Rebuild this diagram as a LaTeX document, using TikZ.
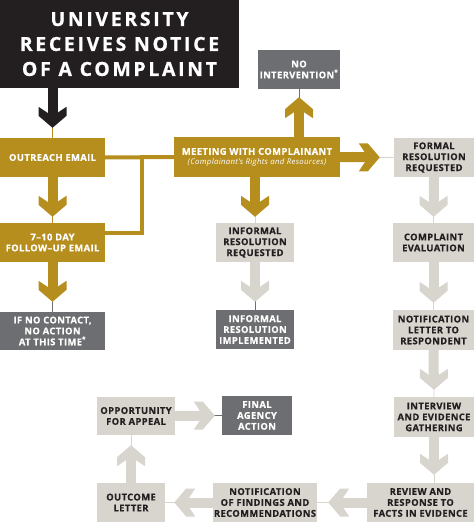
\documentclass[tikz,border=0pt]{standalone}
\usepackage{fontspec}
\usepackage{xcolor}
\usepackage{tikz}
\usetikzlibrary{calc}

\newfontfamily\boxfont{Open Sans}[LetterSpace=4, BoldFeatures={FakeBold=0.5}]
\newfontfamily\headfont{Open Sans}[LetterSpace=14, BoldFeatures={FakeBold=0.8}]

\definecolor{gold}{RGB}{181,142,30}
\definecolor{boxgrey}{RGB}{109,110,113}
\definecolor{boxpale}{RGB}{216,213,207}
\definecolor{inkblack}{RGB}{35,31,32}

\tikzset{
  box/.style={inner sep=0pt, align=center,
    font=\boxfont\bfseries\fontsize{9.4}{10.9}\selectfont},
  wh/.style 2 args={minimum width=#1, minimum height=#2},
  goldbox/.style={box, fill=gold, text=white},
  greybox/.style={box, fill=boxgrey, text=white},
  palebox/.style={box, fill=boxpale, text=inkblack},
  chev/.pic={\fill (0,0) -- (-12,14) -- (-21,14) -- (-15,5) -- (-15,-5) -- (-21,-14) -- (-12,-14) -- cycle;}
}

% #1 colour, #2 from, #3 to, #4 direction, #5 gap, #6 thin line colour
\newcommand{\chevron}[6]{%
  \draw[#6, line width=0.8pt] (#2) -- (#3);
  \coordinate (tip) at ($(#3)!#5pt!(#2)$);
  \draw[#1, line width=10pt] (#2) -- ($(tip)!14pt!(#2)$);
  \pic[fill=#1, rotate=#4] at (tip) {chev};
}

\begin{document}
\begin{tikzpicture}[x=1pt, y=-1pt]
    \useasboundingbox (0,0) rectangle (474,522);

    % Intake
    \node[box, fill=inkblack, text=white, wh={239}{88},
      font=\headfont\bfseries\fontsize{19.4}{25}\selectfont] (title) at (119.5,44)
      {UNIVERSITY\\RECEIVES NOTICE\\OF A COMPLAINT};
    \node[goldbox, wh={105}{39}] (outreach) at (52.5,157.5) {OUTREACH EMAIL};
    \node[goldbox, wh={105}{39}] (follow) at (52.5,242.5) {7–10 DAY\\FOLLOW–UP EMAIL};
    \node[greybox, wh={105}{38}] (nocontact) at (52.5,331) {IF NO CONTACT,\\NO ACTION\\AT THIS TIME\textsuperscript{*}};
    \node[goldbox, wh={166}{40}] (meeting) at (257,157)
      {MEETING WITH COMPLAINANT\\[-1.5pt]{\fontsize{7.8}{9}\mdseries\itshape (Complainant’s Rights and Resources)}};
    \node[greybox, wh={82}{39}] (nointerv) at (299,69.5) {NO\\INTERVENTION\textsuperscript{*}};

    % Informal track
    \node[palebox, wh={78}{39}] (informalreq) at (255,242.5) {INFORMAL\\RESOLUTION\\REQUESTED};
    \node[greybox, wh={78}{39}] (informalimp) at (255,329.5) {INFORMAL\\RESOLUTION\\IMPLEMENTED};

    % Formal track
    \node[palebox, wh={80}{39}] (formal) at (434,157.5) {FORMAL\\RESOLUTION\\REQUESTED};
    \node[palebox, wh={81}{39}] (evaluation) at (433.5,242.5) {COMPLAINT\\EVALUATION};
    \node[palebox, wh={81}{40}] (notifresp) at (433.5,330) {NOTIFICATION\\LETTER TO\\RESPONDENT};
    \node[palebox, wh={80}{40}] (interview) at (434,417) {INTERVIEW\\AND EVIDENCE\\GATHERING};
    \node[palebox, wh={107}{39}] (review) at (420.5,502.5) {REVIEW AND\\RESPONSE TO\\FACTS IN EVIDENCE};
    \node[palebox, wh={104}{39}] (findings) at (265,502.5) {NOTIFICATION\\OF FINDINGS AND\\RECOMMENDATIONS};
    \node[palebox, wh={68}{39}] (outcome) at (131,502.5) {OUTCOME\\LETTER};
    \node[palebox, wh={78}{38}] (appeal) at (136,416) {OPPORTUNITY\\FOR APPEAL};
    \node[greybox, wh={70}{39}] (final) at (257,415.5) {FINAL\\AGENCY\\ACTION};

    \coordinate (titlefoot) at (title.south -| outreach.north);
    \coordinate (meettop) at (meeting.north -| nointerv.south);
    \coordinate (meetfoot) at (meeting.south -| informalreq.north);
    \coordinate (reviewtop) at (interview.south |- review.north);
    \coordinate (appealfoot) at (outcome.north |- appeal.south);

    % Gold links
    \draw[gold, line width=4pt] (outreach.east) -- (meeting.west);
    \draw[gold, line width=4pt] ([yshift=10pt]follow.east) -| ($(outreach.east)!0.53!(meeting.west)$);

    % Chevron arrows
    \chevron{inkblack}{titlefoot}{outreach.north}{-90}{10}{gold}
    \chevron{gold}{outreach.south}{follow.north}{-90}{6}{gold}
    \chevron{gold}{follow.south}{nocontact.north}{-90}{10}{boxgrey}
    \chevron{gold}{meettop}{nointerv.south}{90}{8}{boxgrey}
    \chevron{gold}{meeting.east}{formal.west}{0}{14}{boxpale}
    \chevron{gold}{meetfoot}{informalreq.north}{-90}{6}{boxpale}
    \chevron{boxpale}{informalreq.south}{informalimp.north}{-90}{8}{boxgrey}
    \chevron{boxpale}{formal.south}{evaluation.north}{-90}{6}{boxpale}
    \chevron{boxpale}{evaluation.south}{notifresp.north}{-90}{7}{boxpale}
    \chevron{boxpale}{notifresp.south}{interview.north}{-90}{7}{boxpale}
    \chevron{boxpale}{interview.south}{reviewtop}{-90}{8}{boxpale}
    \chevron{boxpale}{review.west}{findings.east}{180}{11}{boxpale}
    \chevron{boxpale}{findings.west}{outcome.east}{180}{9}{boxpale}
    \chevron{boxpale}{outcome.north}{appealfoot}{90}{10}{boxpale}
    \chevron{boxpale}{appeal.east}{final.west}{0}{7}{boxgrey}
\end{tikzpicture}
\end{document}
